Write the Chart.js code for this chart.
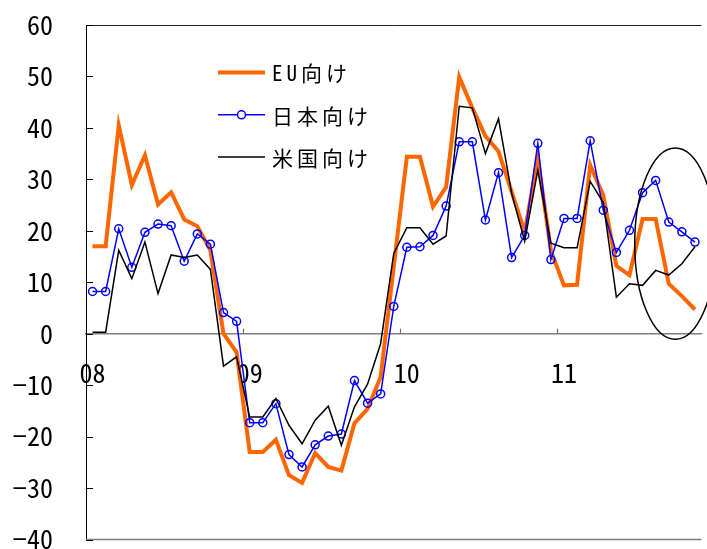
<!DOCTYPE html>
<html>
<head>
<meta charset="utf-8">
<script src="https://cdn.jsdelivr.net/npm/chart.js@4/dist/chart.umd.min.js"></script>
<style>
  html, body { margin: 0; padding: 0; background: #ffffff; }
  #wrap { width: 707px; height: 549px; }
</style>
</head>
<body>
<div id="wrap"><canvas id="chart" width="707" height="549"></canvas></div>
<script>
// Monthly export growth (% y/y), Jan 2008 – Nov 2011
const categories = [
  '08/01','08/02','08/03','08/04','08/05','08/06','08/07','08/08','08/09','08/10','08/11','08/12',
  '09/01','09/02','09/03','09/04','09/05','09/06','09/07','09/08','09/09','09/10','09/11','09/12',
  '10/01','10/02','10/03','10/04','10/05','10/06','10/07','10/08','10/09','10/10','10/11','10/12',
  '11/01','11/02','11/03','11/04','11/05','11/06','11/07','11/08','11/09','11/10','11/11'
];
// Year labels shown at each January
const yearLabels = { '08/01': '08', '09/01': '09', '10/01': '10', '11/01': '11' };

const euExports = [
  17.0, 17.0, 40.5, 28.9, 34.7, 25.1, 27.5, 22.2, 20.9, 16.2, 0.0, -3.6,
  -23.0, -23.0, -20.6, -27.5, -29.0, -23.2, -25.9, -26.6, -17.4, -14.6, -8.4, 13.0,
  34.4, 34.4, 24.7, 28.5, 49.9, 43.9, 38.4, 35.4, 27.6, 19.8, 34.1, 16.1,
  9.4, 9.5, 32.8, 26.9, 13.2, 11.4, 22.3, 22.3, 9.7, 7.3, 4.7
];
const japanExports = [
  8.2, 8.2, 20.4, 12.9, 19.7, 21.3, 21.0, 14.1, 19.4, 17.4, 4.1, 2.4,
  -17.3, -17.3, -13.6, -23.5, -25.9, -21.6, -19.9, -19.5, -9.1, -13.5, -11.7, 5.3,
  16.8, 16.9, 19.1, 24.8, 37.3, 37.3, 22.1, 31.3, 14.8, 19.1, 37.0, 14.4,
  22.4, 22.4, 37.5, 24.0, 15.8, 20.1, 27.4, 29.8, 21.7, 19.8, 17.8
];
const usExports = [
  0.3, 0.3, 16.2, 10.7, 17.8, 7.8, 15.3, 14.8, 15.3, 12.5, -6.3, -4.5,
  -16.2, -16.2, -12.6, -17.8, -21.4, -16.8, -14.1, -21.7, -14.2, -9.8, -1.9, 15.6,
  20.6, 20.6, 17.4, 19.0, 44.2, 43.9, 35.0, 41.8, 27.3, 18.0, 31.8, 17.6,
  16.7, 16.7, 29.6, 25.5, 7.1, 9.7, 9.4, 12.3, 11.4, 13.6, 16.9
];
const yTicks = [-40, -30, -20, -10, 0, 10, 20, 30, 40, 50, 60];

// Highlight ring around the latest months (category index / value units)
const highlight = { center: 44.5, value: 17.5, halfSpan: 3.1, halfRange: 18.6 };

const tickFont = { family: "'Noto Sans Mono CJK JP', 'Noto Sans CJK JP', sans-serif", size: 26 };

const decorations = {
  id: 'decorations',
  afterDatasetsDraw(chart) {
    const { ctx, chartArea: a, scales: { x, y } } = chart;
    ctx.save();
    // frame: top and bottom edges
    ctx.lineWidth = 1;
    ctx.strokeStyle = '#222222';
    ctx.beginPath();
    ctx.moveTo(a.left, a.top + 0.5);
    ctx.lineTo(a.right, a.top + 0.5);
    ctx.stroke();
    ctx.lineWidth = 1.5;
    ctx.strokeStyle = '#808080';
    ctx.beginPath();
    ctx.moveTo(a.left, a.bottom);
    ctx.lineTo(a.right, a.bottom);
    ctx.stroke();
    // inward tick marks on the value axis
    ctx.lineWidth = 1;
    ctx.strokeStyle = '#000000';
    yTicks.forEach(v => {
      const py = Math.round(y.getPixelForValue(v)) + 0.5;
      ctx.beginPath();
      ctx.moveTo(a.left, py);
      ctx.lineTo(a.left + 7, py);
      ctx.stroke();
    });
    // year boundary marks on the zero line
    const y0 = y.getPixelForValue(0);
    ctx.lineWidth = 1.2;
    ctx.strokeStyle = '#707070';
    categories.forEach((c, i) => {
      if (i > 0 && yearLabels[c]) {
        const px = Math.round((x.getPixelForValue(i - 1) + x.getPixelForValue(i)) / 2) + 0.5;
        ctx.beginPath();
        ctx.moveTo(px, y0);
        ctx.lineTo(px, y0 - 5);
        ctx.stroke();
      }
    });
    // highlight ellipse
    const cx = x.getPixelForValue(highlight.center);
    const cy = y.getPixelForValue(highlight.value);
    const rx = Math.abs(x.getPixelForValue(highlight.center + highlight.halfSpan) - cx);
    const ry = Math.abs(y.getPixelForValue(highlight.value + highlight.halfRange) - cy);
    ctx.lineWidth = 1.5;
    ctx.strokeStyle = '#000000';
    ctx.beginPath();
    ctx.ellipse(cx, cy, rx, ry, 0, 0, Math.PI * 2);
    ctx.stroke();
    ctx.restore();
  },
  afterDraw(chart) {
    // legend drawn inside the plot area
    const { ctx } = chart;
    const lx = 218, len = 47, tx = 272, top = 72.5, step = 42.3;
    ctx.save();
    ctx.font = "21px 'Noto Sans Mono CJK JP', 'Noto Sans CJK JP', sans-serif";
    if ('letterSpacing' in ctx) ctx.letterSpacing = '4px';
    ctx.textBaseline = 'middle';
    ctx.textAlign = 'left';
    chart.data.datasets.forEach((ds, i) => {
      const ry = top + i * step;
      ctx.strokeStyle = ds.borderColor;
      ctx.lineWidth = ds.borderWidth;
      ctx.beginPath();
      ctx.moveTo(lx, ry);
      ctx.lineTo(lx + len, ry);
      ctx.stroke();
      if (ds.pointRadius > 0) {
        ctx.lineWidth = ds.pointBorderWidth;
        ctx.fillStyle = '#ffffff';
        ctx.beginPath();
        ctx.arc(lx + len / 2, ry, ds.pointRadius, 0, Math.PI * 2);
        ctx.fill();
        ctx.stroke();
      }
      ctx.fillStyle = '#000000';
      ctx.fillText(ds.label, tx, ry + 1);
    });
    ctx.restore();
  }
};

new Chart(document.getElementById('chart'), {
  type: 'line',
  data: {
    labels: categories,
    datasets: [
      {
        label: 'EU向け', data: euExports, order: 2,
        borderColor: '#FF6600', borderWidth: 4, pointRadius: 0, tension: 0,
        borderJoinStyle: 'miter'
      },
      {
        label: '日本向け', data: japanExports, order: 1,
        borderColor: '#0000FF', borderWidth: 1.5, tension: 0,
        pointRadius: 4, pointBorderWidth: 1.5, pointStyle: 'circle',
        pointBorderColor: '#0000FF', pointBackgroundColor: 'rgba(255,255,255,0)'
      },
      {
        label: '米国向け', data: usExports, order: 0,
        borderColor: '#000000', borderWidth: 1.5, pointRadius: 0, tension: 0
      }
    ]
  },
  options: {
    responsive: false,
    animation: false,
    devicePixelRatio: 1,
    layout: { padding: { top: 25, bottom: 9.5, left: 0, right: 0 } },
    plugins: { legend: { display: false }, tooltip: { enabled: false } },
    scales: {
      x: {
        type: 'category',
        position: { y: 0 },
        offset: true,
        grid: { display: false, offset: true },
        border: { display: true, color: '#808080', width: 1.5 },
        ticks: {
          autoSkip: false, maxRotation: 0, minRotation: 0, padding: 16,
          color: '#000000', font: tickFont,
          callback: (v, i) => yearLabels[categories[i]] || ''
        },
        afterFit(s) { s.height = 0; s.paddingLeft = 0; s.paddingRight = 0; }
      },
      y: {
        min: -40, max: 60,
        grid: { display: false },
        border: { display: true, color: '#000000', width: 1 },
        ticks: {
          padding: 25, color: '#000000', font: tickFont,
          callback: v => (v < 0 ? '\u2212' + Math.abs(v) : String(v))
        },
        afterBuildTicks(s) { s.ticks = yTicks.map(v => ({ value: v })); },
        afterFit(s) { s.width = 86; s.paddingTop = 0; s.paddingBottom = 0; }
      }
    }
  },
  plugins: [decorations]
});
</script>
</body>
</html>
